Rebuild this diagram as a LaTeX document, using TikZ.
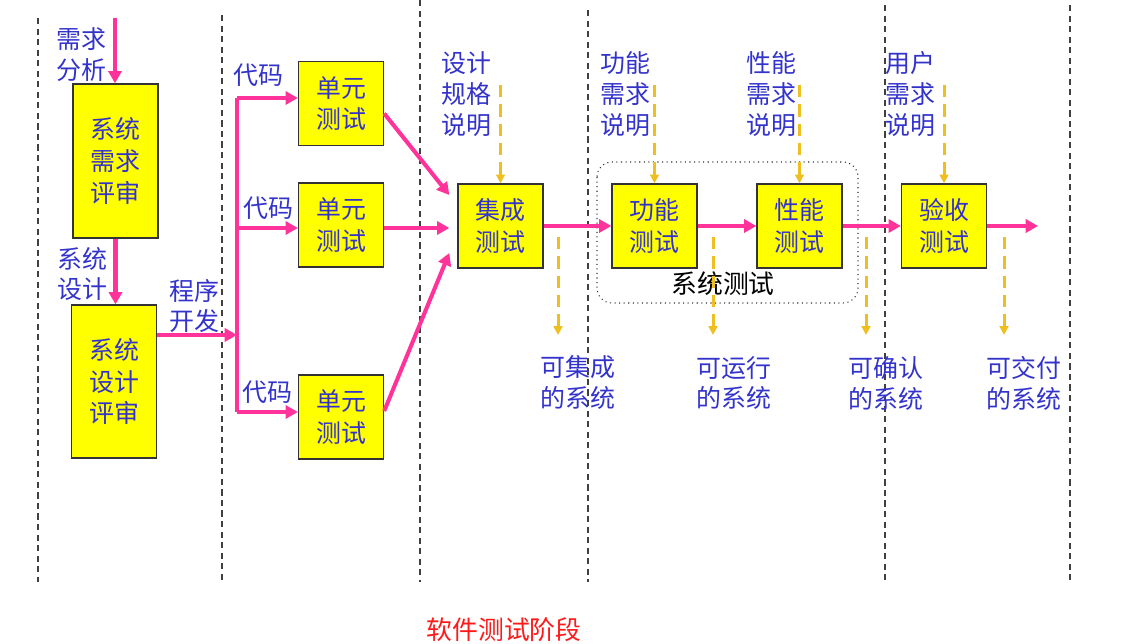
\documentclass[tikz,border=0pt]{standalone}
\usepackage{fontspec}
\setmainfont{Noto Sans CJK SC}
\usepackage{tikz}
\usetikzlibrary{arrows.meta,calc}
\definecolor{flowpink}{HTML}{FF3399}
\definecolor{boxyellow}{HTML}{FFFF00}
\definecolor{labelblue}{HTML}{3333CC}
\definecolor{specgold}{HTML}{EFBE1F}
\definecolor{stagered}{HTML}{FF1A1A}

\tikzset{
  stagebox/.style={draw=black!80, line width=0.8pt, fill=boxyellow, text=labelblue,
    align=center, inner sep=0pt, minimum width=1.7cm, minimum height=1.68cm,
    font=\fontsize{14.2}{18}\selectfont},
  sidelabel/.style={text=labelblue, align=center, inner sep=0pt,
    font=\fontsize{14.2}{17.6}\selectfont},
  divider/.style={draw=black!75, line width=0.6pt, dash pattern=on 3.5pt off 2.5pt},
  flowline/.style={draw=flowpink, line width=2.3pt},
  flow/.style={flowline, -{Triangle[length=7pt,width=7.5pt]}},
  spec/.style={draw=specgold, line width=1.7pt, dash pattern=on 7pt off 4pt,
    -{Triangle[length=5pt,width=5pt]}},
  sysframe/.style={draw=black!80, line width=0.6pt, dotted, rounded corners=0.3cm}
}

\begin{document}
\begin{tikzpicture}[x=0.02cm, y=-0.02cm]
  \useasboundingbox (0,0) rectangle (1121,644);

  % stage dividers
  \foreach \x/\yt in {38/18, 222/15, 420/0, 588/10, 885/5, 1070/5}
    \draw[divider] (\x,\yt) -- (\x,582);

  % reviews
  \node[stagebox, minimum height=3.08cm] (reqrev) at (115.5,161) {系统\\需求\\评审};
  \node[stagebox, minimum height=3.06cm] (desrev) at (114,381.5) {系统\\设计\\评审};
  \node[sidelabel] (reqlbl) at (81,55) {需求\\分析};
  \node[sidelabel] (deslbl) at (82,274) {系统\\设计};
  \node[sidelabel] (devlbl) at (194,306) {程序\\开发};

  % unit tests
  \node[stagebox] (unitA) at (341,103.5) {单元\\测试};
  \node[stagebox] (unitB) at (341,225) {单元\\测试};
  \node[stagebox] (unitC) at (341,417) {单元\\测试};
  \node[sidelabel] (codeA) at (258,75) {代码};
  \node[sidelabel] (codeB) at (268,208) {代码};
  \node[sidelabel] (codeC) at (267,392) {代码};

  % later test stages
  \node[stagebox] (integ) at (500.5,226) {集成\\测试};
  \node[stagebox] (func) at (654.5,226) {功能\\测试};
  \node[stagebox] (perf) at (799.5,226) {性能\\测试};
  \node[stagebox] (accept) at (944,226) {验收\\测试};

  % specifications (top)
  \node[sidelabel] (specI) at (466,94) {设计\\规格\\说明};
  \node[sidelabel] (specF) at (625,94) {功能\\需求\\说明};
  \node[sidelabel] (specP) at (771,94) {性能\\需求\\说明};
  \node[sidelabel] (specA) at (910,94) {用户\\需求\\说明};

  % products (bottom)
  \node[sidelabel] (outI) at (578,382) {可集成\\的系统};
  \node[sidelabel] (outF) at (734,383) {可运行\\的系统};
  \node[sidelabel] (outP) at (886,383) {可确认\\的系统};
  \node[sidelabel] (outA) at (1024,383) {可交付\\的系统};

  % system test group
  \draw[sysframe] (597,162) rectangle (858,303);
  \node[inner sep=0pt, font=\fontsize{14.7}{18}\selectfont] (systest) at (723,284) {系统测试};

  \node[inner sep=0pt, text=stagered, font=\fontsize{14.7}{18}\selectfont] (stage) at (504,630) {软件测试阶段};

  % main flow
  \coordinate (req) at (115,18);
  \draw[flow] (req) -- (req |- reqrev.north);
  \draw[flow] (reqrev.south) -- (reqrev.south |- desrev.north);
  \coordinate (fork) at (237,335);
  \draw[flow] (desrev.east |- fork) -- (fork);
  \coordinate (brA) at (237,98);
  \coordinate (brB) at (237,228);
  \coordinate (brC) at (237,412);
  \draw[flowline] (brA) -- (brC);
  \draw[flow] (brA) -- (brA -| unitA.west);
  \draw[flow] (brB) -- (brB -| unitB.west);
  \draw[flow] (brC) -- (brC -| unitC.west);
  \draw[flow] ($(unitA.east)+(0,10)$) -- ($(integ.west)+(-8,-31)$);
  \draw[flow] (unitB.east |- brB) -- ($(integ.west |- brB)+(-8,0)$);
  \draw[flow] ($(unitC.east)+(0,-6)$) -- ($(integ.west)+(-8,27)$);
  \draw[flow] (integ) -- (func);
  \draw[flow] (func) -- (perf);
  \draw[flow] (perf) -- (accept);
  \coordinate (done) at (1038,226);
  \draw[flow] (accept) -- (done);

  % specification inputs and products
  \coordinate (specrow) at (0,85);
  \foreach \b in {integ,func,perf,accept}
    \draw[spec] (\b.north |- specrow) -- (\b.north);
  \foreach \x in {558,713,866,1004}
    \draw[spec] (\x,237) -- (\x,335);
\end{tikzpicture}
\end{document}
